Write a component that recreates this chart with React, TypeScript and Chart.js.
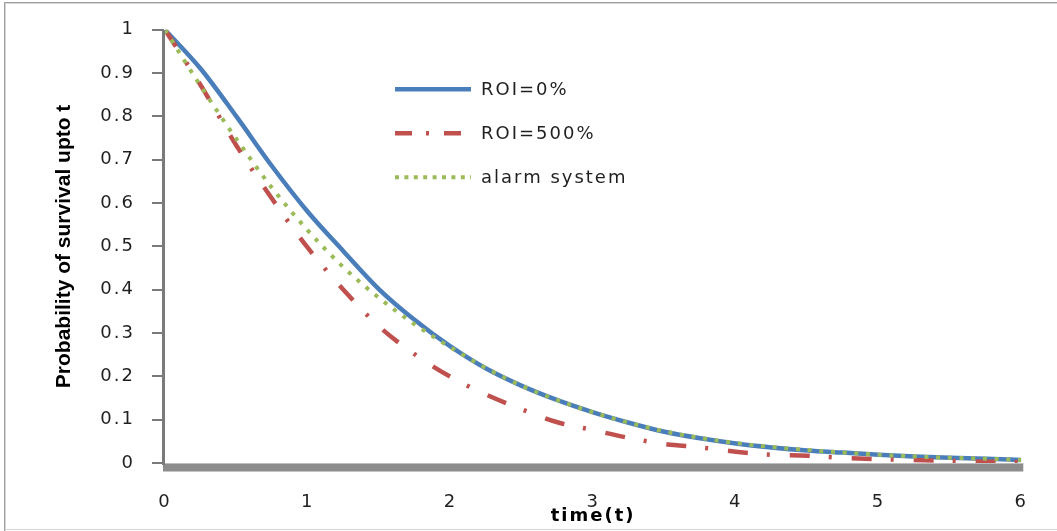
import React, { useEffect, useRef } from "react";
import { Chart, registerables } from "chart.js";

Chart.register(...registerables);

// ---- data ----
const timeValues = [0, 0.25, 0.5, 0.75, 1, 1.25, 1.5, 1.75, 2, 2.25, 2.5, 2.75, 3, 3.25, 3.5, 3.75, 4, 4.25, 4.5, 4.75, 5, 5.25, 5.5, 5.75, 6];
const roi0Values = [1.0, 0.91, 0.8, 0.685, 0.58, 0.489, 0.401, 0.33, 0.269, 0.218, 0.178, 0.145, 0.117, 0.093, 0.072, 0.057, 0.045, 0.036, 0.029, 0.024, 0.019, 0.015, 0.012, 0.01, 0.007];
const roi500Values = [1.0, 0.872, 0.733, 0.61, 0.497, 0.4, 0.315, 0.251, 0.199, 0.158, 0.124, 0.094, 0.076, 0.058, 0.044, 0.036, 0.026, 0.019, 0.017, 0.012, 0.009, 0.007, 0.005, 0.003, 0.002];
const alarmValues = [1.0, 0.87, 0.748, 0.635, 0.537, 0.452, 0.381, 0.32, 0.267, 0.219, 0.178, 0.145, 0.117, 0.093, 0.073, 0.058, 0.046, 0.037, 0.03, 0.024, 0.019, 0.015, 0.012, 0.01, 0.007];
const seriesLabels = ["ROI=0%", "ROI=500%", "alarm system"];
const xTitle = "time(t)";
const yTitle = "Probability of survival upto t";

const BLUE = "#4A7EBB";
const RED = "#C0504D";
const GREEN = "#9BBB59";
const AXIS_GRAY = "#7a7a7a";
const TEXT = "#1f1f1f";
const FONT = "'DejaVu Sans', sans-serif";

const legendDashes = [[], [17, 14, 3, 15], [4, 5.4]];

const decorPlugin = {
  id: "decor",
  beforeLayout(chart: any) {
    chart.ctx.letterSpacing = "2px";
  },
  beforeDraw(chart: any) {
    const ctx = chart.ctx;
    ctx.letterSpacing = "2px";
    ctx.save();
    ctx.fillStyle = "#ffffff";
    ctx.fillRect(0, 0, chart.width, chart.height);
    // outer frame
    ctx.fillStyle = "#a0a0a0";
    ctx.fillRect(4, 2, chart.width - 4, 1);
    ctx.fillRect(4, 2, 1, chart.height - 2);
    ctx.fillStyle = "#d6d6d6";
    ctx.fillRect(5, 3, chart.width - 5, 1);
    ctx.fillRect(5, 3, 1, chart.height - 3);
    ctx.fillRect(5, chart.height - 2, chart.width - 5, 1);
    ctx.restore();
  },
  beforeDatasetsDraw(chart: any) {
    const { ctx, chartArea } = chart;
    const yScale = chart.scales.y;
    const left = Math.round(chartArea.left);
    const top = Math.round(chartArea.top);
    const bottom = Math.round(chartArea.bottom);
    ctx.save();
    // floor band under the x axis
    ctx.fillStyle = "#8c8c8c";
    ctx.fillRect(left - 2, bottom, chartArea.right - left + 4, 8.5);
    ctx.fillStyle = "#bdbdbd";
    ctx.fillRect(left - 2, bottom, chartArea.right - left + 4, 1);
    // vertical axis and its tick marks
    ctx.fillStyle = AXIS_GRAY;
    ctx.fillRect(left - 3, top, 3, bottom - top + 2);
    for (let i = 0; i < yScale.ticks.length; i++) {
      const py = Math.round(yScale.getPixelForValue(yScale.ticks[i].value));
      ctx.fillRect(left - 13, py - 1, 12, 2);
    }
    ctx.restore();
  },
  afterDraw(chart: any) {
    const { ctx, chartArea } = chart;
    // y axis title
    ctx.save();
    ctx.letterSpacing = "0px";
    ctx.translate(64, (chartArea.top + chartArea.bottom) / 2);
    ctx.rotate(-Math.PI / 2);
    ctx.font = "bold 21px 'Liberation Sans', Arial, sans-serif";
    ctx.fillStyle = "#000";
    ctx.textAlign = "center";
    ctx.textBaseline = "middle";
    ctx.fillText(yTitle, 0, 0);
    ctx.restore();

    // legend inside the plot
    const x0 = chartArea.left + 230;
    const y0 = chartArea.top + 59.5;
    chart.data.datasets.forEach((ds: any, i: number) => {
      const y = y0 + i * 44;
      ctx.save();
      ctx.strokeStyle = ds.borderColor;
      ctx.lineWidth = ds.borderWidth;
      ctx.lineCap = "butt";
      ctx.setLineDash(legendDashes[i]);
      ctx.beginPath();
      ctx.moveTo(x0, y);
      ctx.lineTo(x0 + 76, y);
      ctx.stroke();
      ctx.setLineDash([]);
      ctx.letterSpacing = "2px";
      ctx.font = "18px " + FONT;
      ctx.fillStyle = TEXT;
      ctx.textAlign = "left";
      ctx.textBaseline = "middle";
      ctx.fillText(ds.label, x0 + 86, y + 1);
      ctx.restore();
    });
  },
};

export default function App() {
  const canvasRef = useRef<HTMLCanvasElement | null>(null);

  useEffect(() => {
    document.body.style.margin = "0";
    const canvas = canvasRef.current;
    if (!canvas) return;
    const mk = (vals: number[]) => timeValues.map((t, i) => ({ x: t, y: vals[i] }));
    const chart = new Chart(canvas, {
      type: "line",
      data: {
        datasets: [
          {
            label: seriesLabels[0],
            data: mk(roi0Values),
            borderColor: BLUE,
            backgroundColor: BLUE,
            borderWidth: 4.5,
            pointRadius: 0,
            cubicInterpolationMode: "monotone",
            order: 2,
          },
          {
            label: seriesLabels[1],
            data: mk(roi500Values),
            borderColor: RED,
            backgroundColor: RED,
            borderWidth: 4.5,
            borderDash: [20, 19, 3, 20],
            pointRadius: 0,
            cubicInterpolationMode: "monotone",
            order: 1,
          },
          {
            label: seriesLabels[2],
            data: mk(alarmValues),
            borderColor: GREEN,
            backgroundColor: GREEN,
            borderWidth: 4,
            borderDash: [4, 7.7],
            pointRadius: 0,
            cubicInterpolationMode: "monotone",
            order: 0,
          },
        ],
      },
      options: {
        animation: false,
        responsive: true,
        maintainAspectRatio: false,
        layout: { padding: { left: 0, right: 35, top: 29, bottom: 0 } },
        plugins: {
          legend: { display: false },
          tooltip: { enabled: false },
          title: { display: false },
        },
        scales: {
          x: {
            type: "linear",
            min: 0,
            max: 6,
            ticks: {
              stepSize: 1,
              color: TEXT,
              font: { family: FONT, size: 18 },
              padding: 29,
              maxRotation: 0,
            },
            grid: { display: false, drawTicks: false },
            border: { display: false },
            title: {
              display: true,
              text: xTitle,
              color: "#000",
              font: { family: FONT, size: 18, weight: "bold" },
              padding: { top: 0, bottom: 4 },
            },
            afterFit: (s: any) => {
              s.height = 68;
            },
          },
          y: {
            type: "linear",
            min: 0,
            max: 1,
            ticks: {
              stepSize: 0.1,
              color: TEXT,
              font: { family: FONT, size: 18 },
              padding: 19,
              callback: (v: any) => String(+Number(v).toFixed(1)),
            },
            grid: { display: true, drawOnChartArea: false, drawTicks: true, tickLength: 11, color: "rgba(0,0,0,0)" },
            border: { display: false },
            afterFit: (s: any) => {
              s.width = 165;
            },
          },
        },
      } as any,
      plugins: [decorPlugin],
    });
    return () => chart.destroy();
  }, []);

  return (
    <div style={{ position: "relative", width: "1057px", height: "531px" }}>
      <canvas ref={canvasRef} />
    </div>
  );
}
